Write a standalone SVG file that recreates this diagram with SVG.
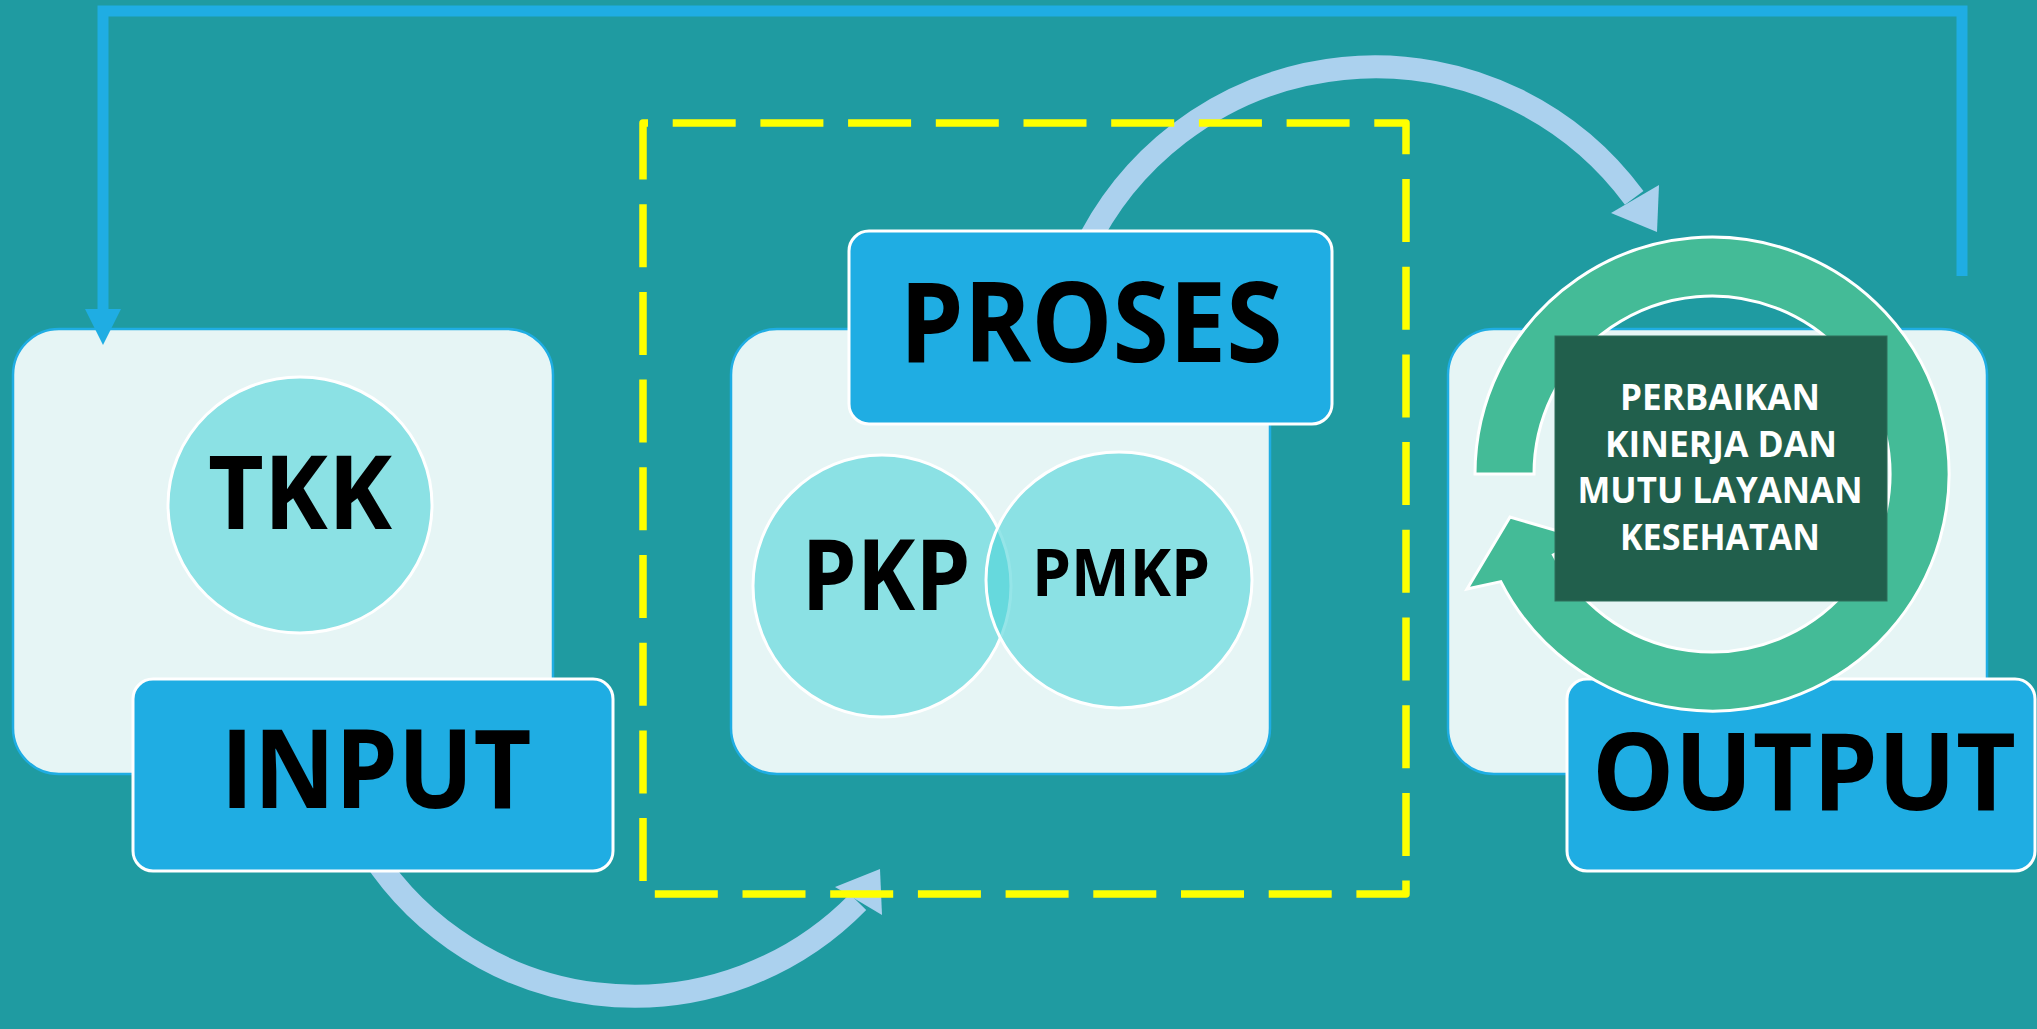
<svg xmlns="http://www.w3.org/2000/svg" width="2037" height="1029" viewBox="0 0 2037 1029">
  <defs>
    <style>
      .panel { fill: #E6F5F5; stroke: #1FADE3; stroke-width: 2.5; }
      .label { fill: #1FADE3; stroke: #FFFFFF; stroke-width: 3; }
      .bubble { fill: #4FD3D9; fill-opacity: 0.6; stroke: #FFFFFF; stroke-width: 3; }
      .big { font-family: "Open Sans", "Liberation Sans", sans-serif; font-weight: 700; fill: #000000; text-anchor: middle; }
      .small { font-family: "Open Sans", "Liberation Sans", sans-serif; font-weight: 700; fill: #FFFFFF; text-anchor: middle; font-size: 35px; }
      .flow { fill: none; stroke: #ABD1EE; stroke-width: 23; }
      .flowhead { fill: #ABD1EE; }
      .feedback { fill: none; stroke: #1FADE3; stroke-width: 11; stroke-linejoin: miter; }
    </style>
  </defs>

  <rect x="0" y="0" width="2037" height="1029" fill="#1F9BA1"/>

  <g id="panel-input">
    <rect class="panel" x="13" y="329" width="540" height="445" rx="46"/>
    <ellipse class="bubble" cx="300" cy="505" rx="132" ry="128"/>
    <text class="big" x="300" y="529" font-size="102" textLength="184" lengthAdjust="spacingAndGlyphs">TKK</text>
  </g>

  <g id="panel-proses">
    <rect class="panel" x="731" y="329" width="539" height="445" rx="46"/>
    <ellipse class="bubble" cx="882" cy="586" rx="129" ry="131"/>
    <ellipse class="bubble" cx="1119" cy="580" rx="133" ry="128"/>
    <text class="big" x="886" y="610" font-size="98" textLength="169" lengthAdjust="spacingAndGlyphs">PKP</text>
    <text class="big" x="1121" y="596" font-size="67" textLength="178" lengthAdjust="spacingAndGlyphs">PMKP</text>
  </g>

  <g id="panel-output">
    <rect class="panel" x="1448" y="329" width="539" height="445" rx="46"/>
  </g>

  <g id="connectors">
    <path class="feedback" d="M 103 312 V 11 H 1962 V 276"/>
    <polygon fill="#1FADE3" points="85,309 121,309 103,345"/>
    <path class="flow" d="M 363 839.5 A 313 313 0 0 0 858 902"/>
    <polygon class="flowhead" points="880,869 835,887 882,915"/>
    <path class="flow" d="M 1083 253 A 322 322 0 0 1 1634.2 197.9"/>
    <polygon class="flowhead" points="1657,232 1611,213 1659,185"/>
  </g>

  <g id="label-input">
    <rect class="label" x="133" y="679" width="480" height="192" rx="20"/>
    <text class="big" x="376" y="808" font-size="110" textLength="311" lengthAdjust="spacingAndGlyphs">INPUT</text>
  </g>

  <g id="label-proses">
    <rect class="label" x="849" y="231" width="483" height="193" rx="20"/>
    <text class="big" x="1091" y="362" font-size="111" textLength="383" lengthAdjust="spacingAndGlyphs">PROSES</text>
  </g>

  <g id="label-output">
    <rect class="label" x="1567" y="679" width="468" height="192" rx="20"/>
    <text class="big" x="1804" y="810" font-size="107" textLength="424" lengthAdjust="spacingAndGlyphs">OUTPUT</text>
  </g>

  <g id="cycle">
    <path fill="#44BB97" stroke="#FFFFFF" stroke-width="3" stroke-linejoin="miter" d="M 1475 474 A 237 237 0 1 1 1500.8 581.6 L 1467 589 L 1510 517 L 1584.6 538.9 L 1553.4 554.8 A 178 178 0 1 0 1534 474 Z"/>
  </g>

  <g id="result">
    <rect x="1555" y="336" width="332" height="265" fill="#215F4C" stroke="#2E6E5B" stroke-width="1"/>
    <text class="small" x="1720" y="410" textLength="200" lengthAdjust="spacingAndGlyphs">PERBAIKAN</text>
    <text class="small" x="1721" y="457" textLength="232" lengthAdjust="spacingAndGlyphs">KINERJA DAN</text>
    <text class="small" x="1720" y="503" textLength="285" lengthAdjust="spacingAndGlyphs">MUTU LAYANAN</text>
    <text class="small" x="1720" y="550" textLength="200" lengthAdjust="spacingAndGlyphs">KESEHATAN</text>
  </g>

  <g id="process-frame">
    <path d="M 643 123 H 1406 V 894 H 643 Z" fill="none" stroke="#FFFF00" stroke-width="7.5" stroke-linejoin="round" stroke-dasharray="63 24.7" stroke-dashoffset="58"/>
  </g>
</svg>
